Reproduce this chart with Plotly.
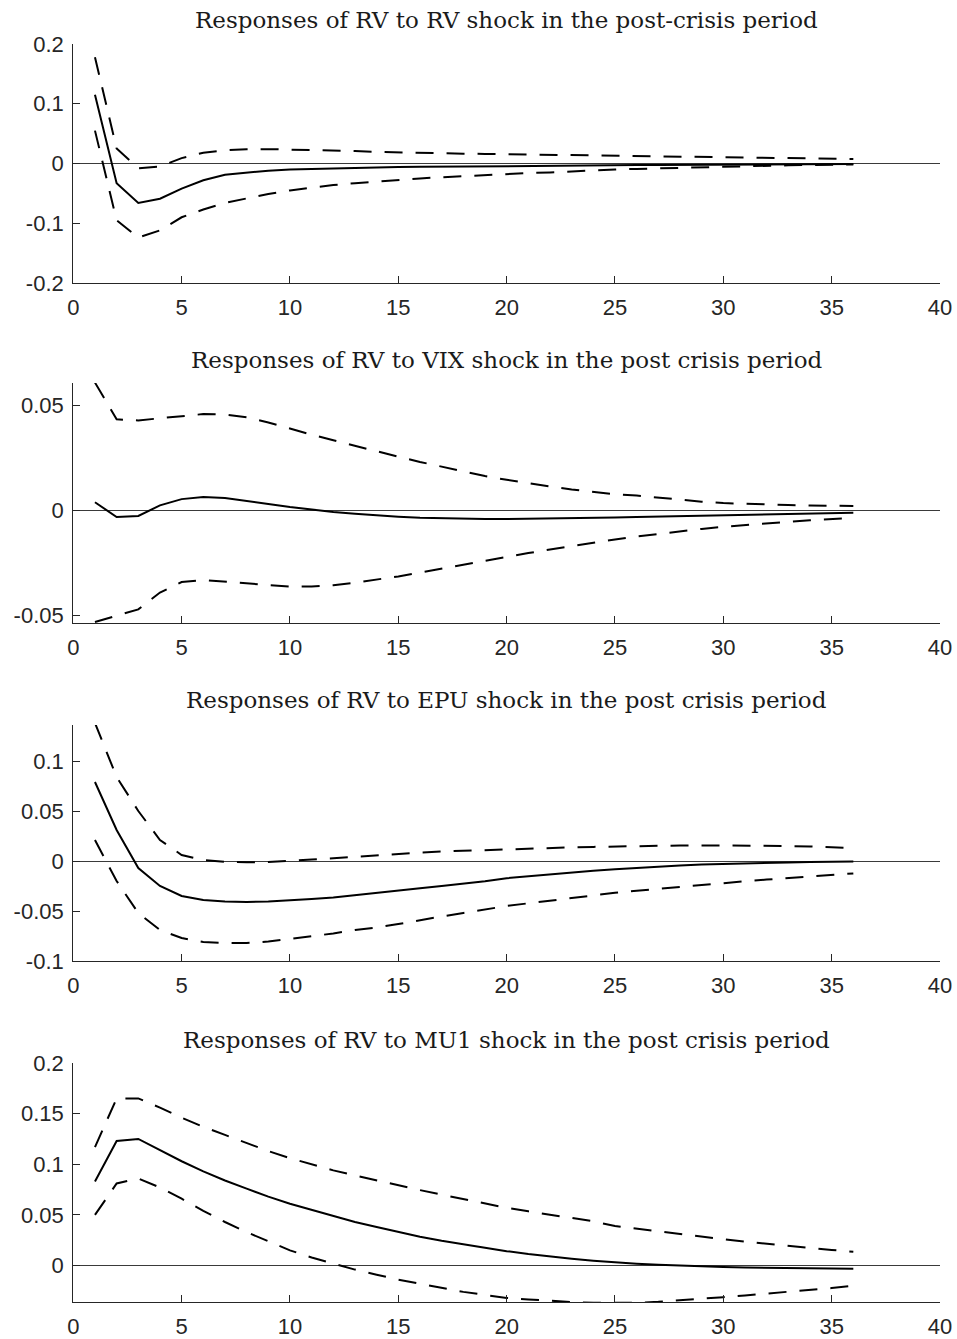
import plotly.graph_objects as go

horizon = list(range(1, 37))

titles = [
    "Responses of RV to RV shock in the post-crisis period",
    "Responses of RV to VIX shock in the post crisis period",
    "Responses of RV to EPU shock in the post crisis period",
    "Responses of RV to MU1 shock in the post crisis period",
]

# Panel 1: RV shock
rv_mid = [0.115, -0.033, -0.066, -0.059, -0.042, -0.028, -0.019, -0.015, -0.012, -0.010,
          -0.009, -0.008, -0.007, -0.0065, -0.006, -0.0056, -0.0052, -0.0048, -0.0045, -0.0042,
          -0.0039, -0.0036, -0.0033, -0.0031, -0.0029, -0.0027, -0.0025, -0.0023, -0.0021, -0.0019,
          -0.0017, -0.0015, -0.0014, -0.0012, -0.0011, -0.001]
rv_up = [0.178, 0.025, -0.008, -0.005, 0.009, 0.018, 0.022, 0.024, 0.024, 0.0235,
         0.023, 0.022, 0.021, 0.0195, 0.0185, 0.018, 0.0172, 0.0165, 0.016, 0.0155,
         0.015, 0.0145, 0.014, 0.0135, 0.013, 0.0125, 0.012, 0.0115, 0.011, 0.0105,
         0.01, 0.0095, 0.009, 0.0085, 0.008, 0.0075]
rv_lo = [0.055, -0.095, -0.124, -0.112, -0.090, -0.077, -0.066, -0.058, -0.051, -0.045,
         -0.040, -0.036, -0.033, -0.030, -0.027, -0.025, -0.023, -0.021, -0.019, -0.018,
         -0.016, -0.015, -0.013, -0.012, -0.010, -0.009, -0.008, -0.007, -0.006, -0.005,
         -0.004, -0.0035, -0.003, -0.0025, -0.002, -0.0015]

# Panel 2: VIX shock
vix_mid = [0.004, -0.003, -0.0025, 0.0025, 0.0055, 0.0065, 0.006, 0.0047, 0.0032, 0.0017,
           0.0005, -0.0006, -0.0015, -0.0023, -0.0029, -0.0034, -0.0037, -0.0039, -0.004, -0.004,
           -0.0039, -0.0038, -0.0036, -0.0034, -0.0032, -0.003, -0.0028, -0.0026, -0.0024, -0.0022,
           -0.002, -0.0018, -0.0016, -0.0014, -0.0012, -0.001]
vix_up = [0.061, 0.0435, 0.043, 0.044, 0.045, 0.046, 0.0458, 0.0445, 0.042, 0.039,
          0.0362, 0.0335, 0.0308, 0.0282, 0.0257, 0.0232, 0.0209, 0.0187, 0.0165, 0.0147,
          0.013, 0.0115, 0.0101, 0.0089, 0.0078, 0.0072, 0.0062, 0.0052, 0.0043, 0.0036,
          0.0032, 0.0029, 0.0027, 0.0025, 0.0023, 0.0022]
vix_lo = [-0.053, -0.05, -0.047, -0.039, -0.034, -0.033, -0.0338, -0.0348, -0.0357, -0.0362,
          -0.0361, -0.0355, -0.0343, -0.0329, -0.0313, -0.0295, -0.0276, -0.0257, -0.0238, -0.022,
          -0.0202, -0.0185, -0.0168, -0.0152, -0.0137, -0.0123, -0.011, -0.0098, -0.0087, -0.0077,
          -0.0068, -0.006, -0.0053, -0.0046, -0.004, -0.0035]

# Panel 3: EPU shock
epu_mid = [0.079, 0.031, -0.007, -0.025, -0.035, -0.039, -0.0405, -0.041, -0.0405, -0.0395,
           -0.038, -0.0365, -0.034, -0.0318, -0.0295, -0.0272, -0.0249, -0.0226, -0.0203, -0.0172,
           -0.0152, -0.0133, -0.0115, -0.0098, -0.0082, -0.0068, -0.0056, -0.0045, -0.0036, -0.0029,
           -0.0024, -0.0019, -0.0014, -0.001, -0.0007, -0.0005]
epu_up = [0.138, 0.084, 0.050, 0.021, 0.006, 0.001, -0.0008, -0.0013, -0.001, 0.0005,
          0.0015, 0.0027, 0.0042, 0.0058, 0.0073, 0.0085, 0.0095, 0.0103, 0.011, 0.0117,
          0.0124, 0.013, 0.0136, 0.0141, 0.0146, 0.015, 0.0153, 0.0155, 0.0156, 0.0156,
          0.0155, 0.0153, 0.015, 0.0145, 0.0138, 0.0128]
epu_lo = [0.021, -0.02, -0.052, -0.069, -0.077, -0.081, -0.082, -0.082, -0.0805, -0.078,
          -0.0755, -0.0725, -0.069, -0.0665, -0.063, -0.059, -0.0555, -0.052, -0.0485, -0.045,
          -0.0423, -0.0396, -0.037, -0.0345, -0.0318, -0.0297, -0.0277, -0.0257, -0.0238, -0.022,
          -0.0203, -0.0186, -0.017, -0.0154, -0.0139, -0.0124]

# Panel 4: MU1 shock
mu_mid = [0.083, 0.123, 0.125, 0.114, 0.103, 0.093, 0.084, 0.076, 0.068, 0.061,
          0.055, 0.049, 0.043, 0.038, 0.033, 0.0285, 0.0245, 0.021, 0.0175, 0.0142,
          0.0113, 0.0088, 0.0066, 0.0047, 0.0031, 0.0018, 0.0007, -0.0002, -0.0009, -0.0015,
          -0.002, -0.0024, -0.0027, -0.0029, -0.003, -0.0031]
mu_up = [0.117, 0.165, 0.165, 0.156, 0.146, 0.137, 0.129, 0.121, 0.113, 0.106,
         0.1, 0.094, 0.089, 0.084, 0.079, 0.0745, 0.07, 0.0655, 0.061, 0.057,
         0.0535, 0.05, 0.0468, 0.0437, 0.039, 0.0363, 0.0336, 0.031, 0.0284, 0.0259,
         0.0236, 0.0214, 0.0193, 0.0173, 0.0154, 0.0136]
mu_lo = [0.05, 0.081, 0.086, 0.077, 0.066, 0.054, 0.043, 0.033, 0.024, 0.015,
         0.008, 0.002, -0.004, -0.009, -0.014, -0.018, -0.022, -0.026, -0.029, -0.032,
         -0.0335, -0.035, -0.036, -0.0368, -0.037, -0.0368, -0.0358, -0.0345, -0.033, -0.0312,
         -0.0295, -0.0278, -0.026, -0.0242, -0.0222, -0.02]

y_ranges = [[-0.2, 0.2], [-0.0535, 0.0608], [-0.1, 0.136], [-0.036, 0.2]]
y_tickvals = [[-0.2, -0.1, 0, 0.1, 0.2], [-0.05, 0, 0.05],
              [-0.1, -0.05, 0, 0.05, 0.1], [0, 0.05, 0.1, 0.15, 0.2]]
y_ticktext = [["-0.2", "-0.1", "0", "0.1", "0.2"], ["-0.05", "0", "0.05"],
              ["-0.1", "-0.05", "0", "0.05", "0.1"], ["0", "0.05", "0.1", "0.15", "0.2"]]
x_tickvals = [0, 5, 10, 15, 20, 25, 30, 35, 40]

panels = [(rv_mid, rv_up, rv_lo), (vix_mid, vix_up, vix_lo),
          (epu_mid, epu_up, epu_lo), (mu_mid, mu_up, mu_lo)]

W, H = 957, 1339
# axis pixel boxes (top, bottom)
boxes = [(44, 283), (383, 623), (725, 961), (1063, 1302)]
x_left, x_right = 73.3, 940.0
title_y = [20, 360, 700, 1040]

fig = go.Figure()
axis_color = "#262626"
tick_font = dict(family="Liberation Sans, Arial, sans-serif", size=22, color=axis_color)

for i, (mid, up, lo) in enumerate(panels):
    sfx = "" if i == 0 else str(i + 1)
    xa, ya = "x" + sfx, "y" + sfx
    for series, dash, w in ((up, "18px,13px", 2), (lo, "18px,13px", 2), (mid, "solid", 2)):
        fig.add_trace(go.Scatter(x=horizon, y=series, mode="lines", xaxis=xa, yaxis=ya,
                                 line=dict(color="black", width=w, dash=dash),
                                 showlegend=False, hoverinfo="skip"))
    top, bot = boxes[i]
    fig.layout["xaxis" + sfx] = dict(
        domain=[x_left / W, x_right / W], anchor=ya, range=[0, 40], automargin=False,
        tickvals=x_tickvals, ticks="inside", ticklen=7, tickwidth=1.2,
        tickcolor=axis_color, showline=True, linecolor=axis_color, linewidth=1.3,
        showgrid=False, zeroline=False, tickfont=tick_font, ticklabelstandoff=4)
    fig.layout["yaxis" + sfx] = dict(
        domain=[1 - bot / H, 1 - top / H], anchor=xa, range=y_ranges[i], automargin=False,
        tickvals=y_tickvals[i], ticktext=y_ticktext[i], ticks="inside", ticklen=7,
        tickwidth=1.2, tickcolor=axis_color, showline=True, linecolor=axis_color,
        linewidth=1.3, showgrid=False, zeroline=True, zerolinecolor="#3a3a3a",
        zerolinewidth=1, tickfont=tick_font, ticklabelstandoff=4)
    fig.add_annotation(text=titles[i], xref="paper", yref="paper",
                       x=(x_left + x_right) / 2 / W, y=1 - title_y[i] / H,
                       xanchor="center", yanchor="middle", showarrow=False,
                       font=dict(family="DejaVu Serif, serif", size=23, color="#1a1a1a"))

fig.update_layout(width=W, height=H, margin=dict(l=0, r=0, t=0, b=0, autoexpand=False),
                  plot_bgcolor="white", paper_bgcolor="white")
fig.write_html("out.html",
               post_script="document.body.style.margin='0';document.body.style.overflow='hidden';")
